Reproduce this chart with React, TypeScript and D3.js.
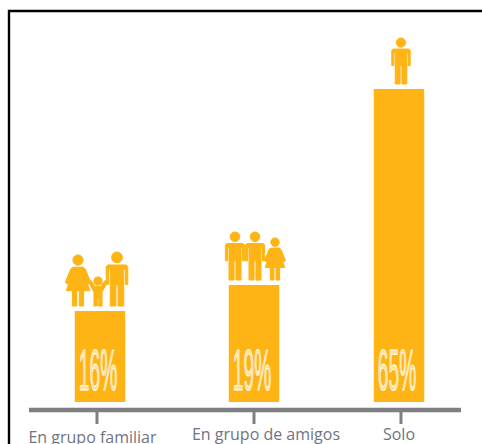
import React from "react";
import * as d3 from "d3";

type Person = { kind: "man" | "woman" | "child"; dx: number; size: number };

const categories = ["En grupo familiar", "En grupo de amigos", "Solo"];
const shares = [16, 19, 65];
const barCentres = [100, 254, 399];
const tickCentres = [97, 254, 401];
const labelCentres = [92.5, 266, 399];
const labelBaselines = [443, 439.5, 439.5];
const peopleByBar: Person[][] = [
  [
    { kind: "woman", dx: -22, size: 51 },
    { kind: "child", dx: -2, size: 29 },
    { kind: "man", dx: 17, size: 54 },
  ],
  [
    { kind: "man", dx: -19, size: 48 },
    { kind: "man", dx: 1, size: 48 },
    { kind: "woman", dx: 21, size: 42 },
  ],
  [{ kind: "man", dx: 2, size: 46 }],
];

const ORANGE = "#feb414";
const GREY = "#7f7f83";
const BASE_Y = 402;
const AXIS_Y = 410;

// The published bars are not drawn to a strictly proportional scale, so the
// height scale is piecewise between the three reported shares.
const heightScale = d3.scaleLinear().domain([0, 16, 19, 65]).range([0, 91, 117, 313]);

// Pictograms are described on a unit box: x around 0, y from 0 (head top) to 1 (feet).
function Figure({ kind, x, feet, size }: { kind: Person["kind"]; x: number; feet: number; size: number }) {
  const p = d3.path();
  const s = (v: number) => v * size;
  const X = (v: number) => x + s(v);
  const Y = (v: number) => feet - size + s(v);
  const poly = (pts: [number, number][]) => {
    pts.forEach(([a, b], i) => (i ? p.lineTo(X(a), Y(b)) : p.moveTo(X(a), Y(b))));
    p.closePath();
  };
  const headR = kind === "child" ? 0.14 : 0.1;
  p.moveTo(X(0) + s(headR), Y(headR));
  p.arc(X(0), Y(headR), s(headR), 0, Math.PI * 2);
  if (kind === "man") {
    poly([
      [-0.17, 0.24], [0.17, 0.24], [0.2, 0.27], [0.2, 0.6], [0.155, 0.6], [0.155, 0.32],
      [0.125, 0.32], [0.125, 1], [0.02, 1], [0.02, 0.6], [-0.02, 0.6], [-0.02, 1],
      [-0.125, 1], [-0.125, 0.32], [-0.155, 0.32], [-0.155, 0.6], [-0.2, 0.6], [-0.2, 0.27],
    ]);
  } else if (kind === "woman") {
    poly([
      [-0.1, 0.24], [0.1, 0.24], [0.14, 0.27], [0.25, 0.54], [0.2, 0.57], [0.12, 0.38],
      [0.23, 0.7], [0.11, 0.7], [0.11, 1], [0.025, 1], [0.025, 0.7], [-0.025, 0.7], [-0.025, 1],
      [-0.11, 1], [-0.11, 0.7], [-0.23, 0.7], [-0.12, 0.38], [-0.2, 0.57], [-0.25, 0.54],
      [-0.14, 0.27],
    ]);
  } else {
    poly([
      [-0.1, 0.33], [0.1, 0.33], [0.24, 0.12], [0.32, 0.18], [0.14, 0.52], [0.14, 1], [0.025, 1],
      [0.025, 0.72], [-0.025, 0.72], [-0.025, 1], [-0.14, 1], [-0.14, 0.52], [-0.32, 0.18], [-0.24, 0.12],
    ]);
  }
  return <path d={p.toString()} fill={ORANGE} stroke={ORANGE} strokeWidth={1} strokeLinejoin="round" />;
}

export default function App() {
  const barWidth = 50.5;
  return (
    <svg
      width={482}
      height={444}
      style={{ position: "absolute", left: 0, top: 0, background: "#fff" }}
      fontFamily="'Open Sans', sans-serif"
    >
      <path d="M9 444V11H482" fill="none" stroke="#000" strokeWidth={2.4} />
      {shares.map((v, i) => {
        const h = heightScale(v);
        const top = BASE_Y - h;
        const cx = barCentres[i];
        return (
          <g key={categories[i]}>
            <rect x={cx - barWidth / 2} y={top} width={barWidth} height={h} fill={ORANGE} />
            {peopleByBar[i].map((q, k) => (
              <Figure key={k} kind={q.kind} x={cx + q.dx} feet={top - 5} size={q.size} />
            ))}
            <text
              transform={`translate(${cx - 2},390) scale(0.33,1)`}
              textAnchor="middle"
              fontSize={58}
              fontFamily="'Liberation Sans', sans-serif"
              fill="#ffe09c"
              stroke="#fff"
              strokeWidth={0.8}
              style={{ vectorEffect: "non-scaling-stroke" }}
            >
              {v}%
            </text>
            <line x1={tickCentres[i]} x2={tickCentres[i]} y1={AXIS_Y} y2={424} stroke={GREY} strokeWidth={3} />
            <text x={labelCentres[i]} y={labelBaselines[i]} textAnchor="middle" fontSize={16} fill="#6f7480">
              {categories[i]}
            </text>
          </g>
        );
      })}
      <line x1={29} x2={461} y1={AXIS_Y} y2={AXIS_Y} stroke={GREY} strokeWidth={4.5} />
    </svg>
  );
}
